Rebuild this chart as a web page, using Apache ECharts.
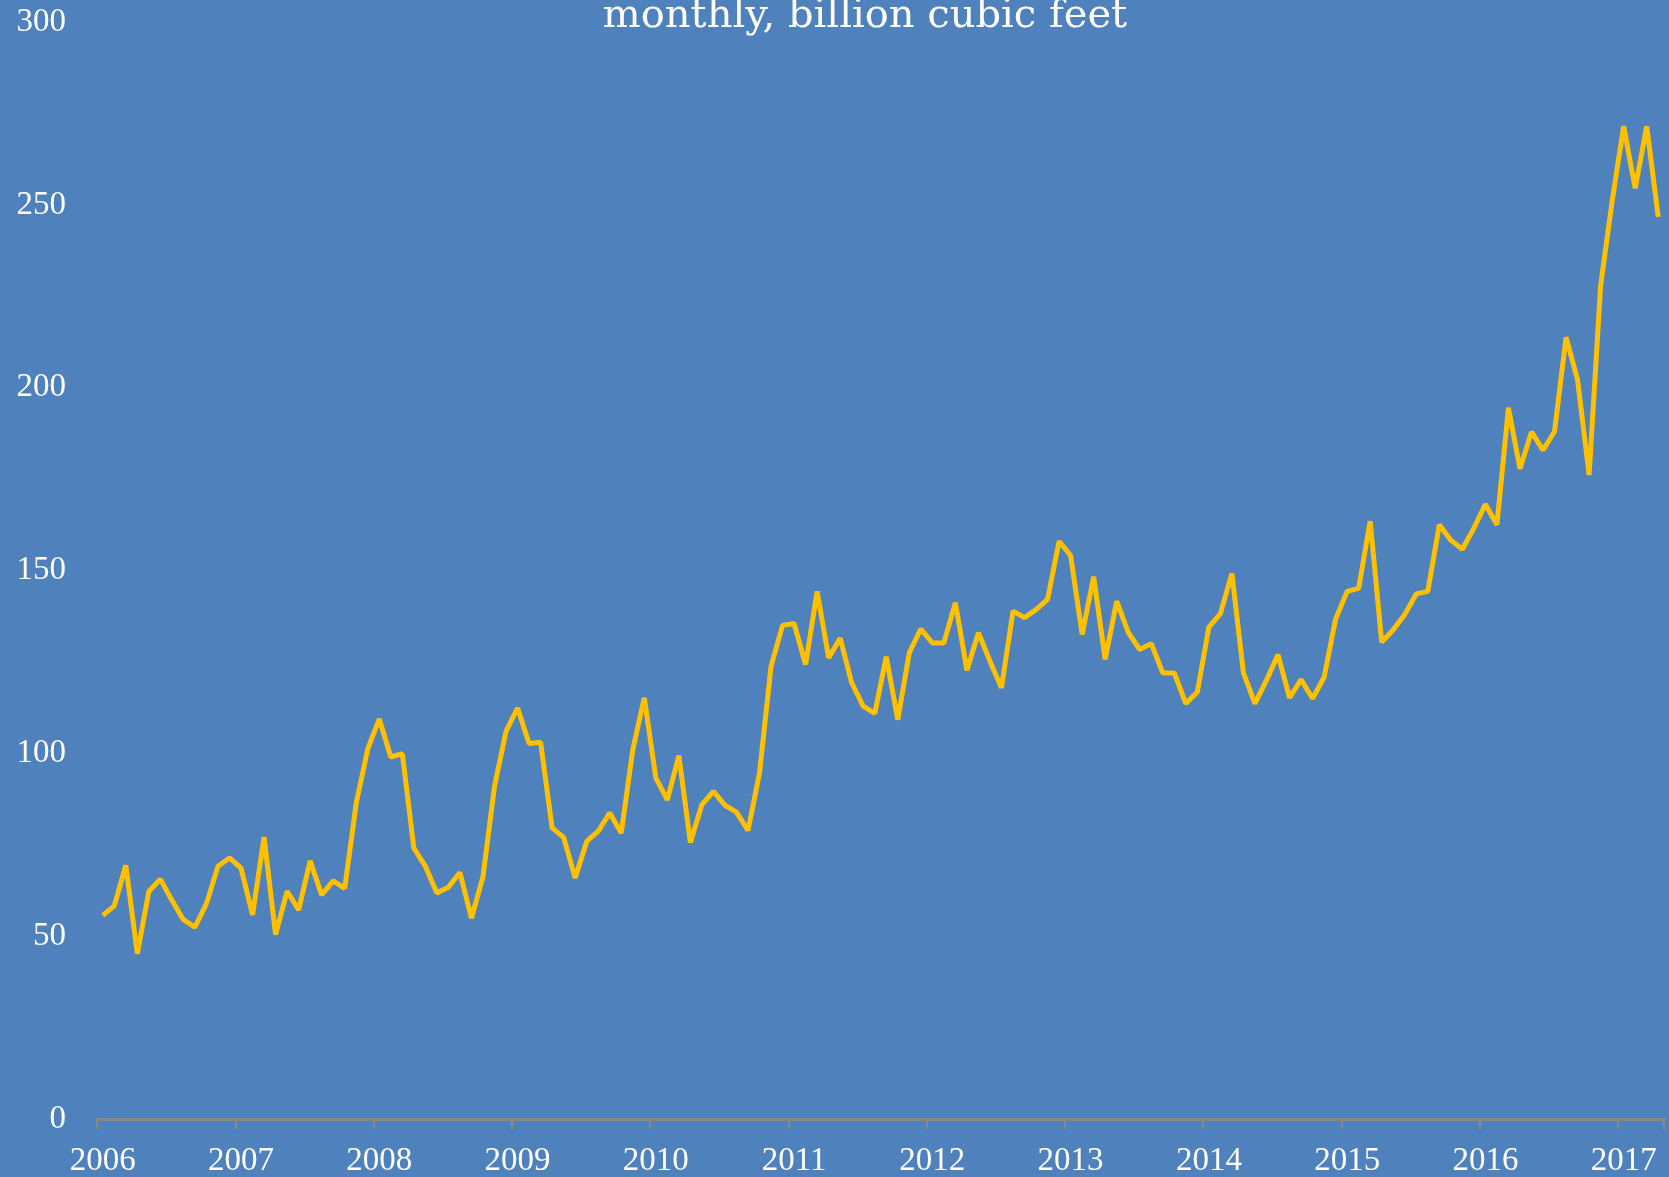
<!DOCTYPE html>
<html>
<head>
<meta charset="utf-8">
<script src="https://cdn.jsdelivr.net/npm/echarts@6/dist/echarts.min.js"></script>
<style>
    html, body { margin: 0; padding: 0; background: #4f81bd; }
    #chart { width: 1669px; height: 1177px; }
</style>
</head>
<body>
<div id="chart"></div>
<script>
const years = [2006, 2007, 2008, 2009, 2010, 2011, 2012, 2013, 2014, 2015, 2016, 2017];

// monthly values, Jan 2006 .. Apr 2017
const values = [
    55.7, 58.3, 69.4, 45.2, 62.2, 65.6, 59.8, 54.5, 52.5, 58.9, 69.1, 71.4,
    68.6, 55.8, 77.1, 50.4, 62.3, 57.2, 70.6, 61.3, 65.1, 63.1, 86.4, 101.2,
    109.4, 99.0, 99.9, 74.1, 69.1, 61.8, 63.4, 67.4, 54.9, 66.3, 91.0, 106.0,
    112.4, 102.7, 103.0, 79.6, 77.0, 65.9, 75.9, 78.7, 83.7, 78.2, 101.0, 115.2,
    93.3, 87.3, 99.4, 75.6, 86.0, 89.6, 85.8, 83.9, 78.9, 94.6, 123.8, 135.0,
    135.5, 124.3, 144.3, 126.1, 131.5, 119.3, 112.9, 110.9, 126.4, 109.2, 127.5, 134.0,
    130.2, 130.2, 141.2, 122.7, 133.0, 125.2, 117.9, 138.9, 137.1, 139.3, 142.1, 158.0,
    154.1, 132.5, 148.3, 125.7, 141.6, 133.1, 128.4, 130.0, 122.0, 122.0, 113.6, 116.8,
    134.5, 138.2, 149.2, 122.0, 113.6, 120.0, 127.0, 115.2, 120.2, 115.0, 120.8, 136.7,
    144.3, 145.1, 163.5, 130.4, 133.8, 138.0, 143.6, 144.3, 162.5, 158.3, 155.8, 161.6,
    168.1, 162.5, 194.5, 177.8, 187.9, 182.9, 188.0, 213.8, 202.1, 176.1, 227.9, 251.0,
    271.5, 254.5, 271.5, 246.7,
];

const months = [];
years.forEach((year) => {
    for (let m = 1; m <= 12; m++) {
        if (months.length < values.length) {
            months.push(year + '-' + String(m).padStart(2, '0'));
        }
    }
});

const serif = '"Liberation Serif", "Times New Roman", serif';
const isJanuary = (index) => index % 12 === 0;

const chart = echarts.init(document.getElementById('chart'));

chart.setOption({
    backgroundColor: '#4f81bd',
    animation: false,
    title: {
        text: 'monthly, billion cubic feet',
        left: 860,
        top: -8,
        textAlign: 'center',
        textStyle: { color: '#ffffff', fontFamily: '"DejaVu Serif", serif', fontSize: 40, fontWeight: 'normal' },
    },
    grid: { left: 97, right: 5, top: 22, bottom: 58, containLabel: false, outerBoundsMode: 'none' },
    xAxis: {
        type: 'category',
        data: months,
        boundaryGap: true,
        axisLine: { lineStyle: { color: '#888888', width: 3 } },
        axisTick: { show: true, interval: (i) => isJanuary(i), length: 10, lineStyle: { color: '#888888', width: 2 } },
        axisLabel: {
            interval: (i) => isJanuary(i),
            formatter: (v) => v.slice(0, 4),
            color: '#ffffff',
            fontFamily: serif,
            fontSize: 33,
            margin: 26,
        },
        splitLine: { show: false },
    },
    yAxis: {
        type: 'value',
        min: 0,
        max: 300,
        interval: 50,
        axisLine: { show: false },
        axisTick: { show: false },
        splitLine: { show: false },
        axisLabel: { color: '#ffffff', fontFamily: serif, fontSize: 33, margin: 31 },
    },
    series: [
        {
            name: 'monthly',
            type: 'line',
            data: values,
            symbol: 'none',
            lineStyle: { color: '#ffc000', width: 5 },
        },
    ],
});
</script>
</body>
</html>
